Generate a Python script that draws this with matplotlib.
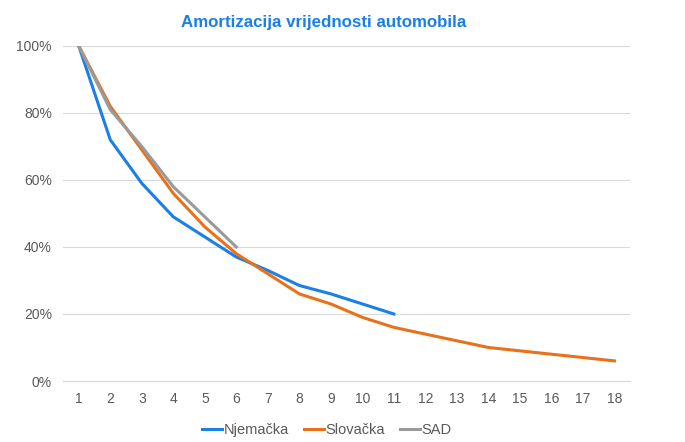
import matplotlib
matplotlib.use('Agg')
import matplotlib.pyplot as plt
from matplotlib.ticker import PercentFormatter

plt.rcParams['font.family'] = ['Liberation Sans', 'DejaVu Sans']

# podaci
godine = list(range(1, 19))
njemacka = [100, 72, 59, 49, 43, 37, 33, 28.5, 26, 23, 20]
slovacka = [100, 82, 69, 56, 46, 38, 32, 26, 23, 19, 16, 14, 12, 10, 9, 8, 7, 6]
sad = [100, 81, 70, 58, 49, 40]

fig = plt.figure(figsize=(6.85, 4.42), dpi=100)
ax = fig.add_axes([0.092, 0.138, 0.828, 0.758])

ax.plot(godine[:len(njemacka)], njemacka, color='#1A7FE6', lw=2.2, label='Njemačka')
ax.plot(godine[:len(slovacka)], slovacka, color='#E8711C', lw=2.2, label='Slovačka')
ax.plot(godine[:len(sad)], sad, color='#9A9A9A', lw=2.2, label='SAD')

ax.set_xlim(0.5, 18.5)
ax.set_ylim(0, 100)
ax.set_xticks(godine)
ax.set_yticks(range(0, 101, 20))
ax.yaxis.set_major_formatter(PercentFormatter(decimals=0))
ax.grid(axis='y', color='#D9D9D9', lw=0.8)
ax.set_axisbelow(True)
for s in ['top', 'right', 'left']:
    ax.spines[s].set_visible(False)
ax.spines['bottom'].set_color('#D9D9D9')
ax.tick_params(axis='both', length=0, colors='#595959', labelsize=10, pad=8)

fig.suptitle('Amortizacija vrijednosti automobila', x=0.473, y=0.965,
             color='#1A7FE6', fontsize=12.2, fontweight='bold')

ax.legend(loc='upper center', bbox_to_anchor=(0.465, -0.085), ncol=3, frameon=False,
          fontsize=10.5, handlelength=1.4, handletextpad=0.1, columnspacing=1.0,
          labelcolor='#595959')

fig.savefig('out.png', dpi=100)
